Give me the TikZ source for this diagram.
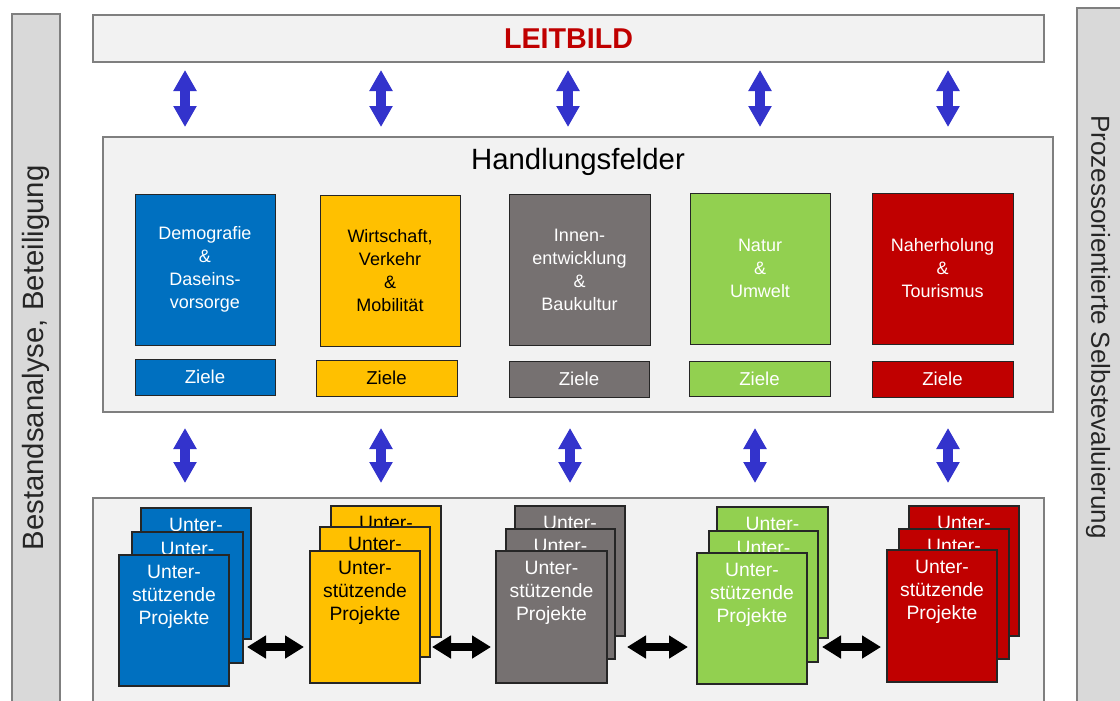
\documentclass[tikz,border=0pt]{standalone}
\usepackage{fontspec}
\setmainfont{Liberation Sans}
\usetikzlibrary{arrows.meta,fit,calc}
\definecolor{cblue}{HTML}{0070C0}
\definecolor{cyellow}{HTML}{FFC000}
\definecolor{cgray}{HTML}{767171}
\definecolor{cgreen}{HTML}{92D050}
\definecolor{cred}{HTML}{C00000}
\definecolor{cpanel}{HTML}{F2F2F2}
\definecolor{cside}{HTML}{D9D9D9}
\definecolor{cborder}{HTML}{7F7F7F}
\definecolor{cedge}{HTML}{262626}
\definecolor{carrow}{HTML}{3333CC}
\definecolor{ctext}{HTML}{262626}
\newcommand{\mkcard}[7]{%
  \node[cardbox, fill=#6, fit={(#2,#3) (#4,#5)}] (#1) {};
  \node[cardtxt, text=#7, anchor=north, yshift=-8.25pt] (#1t) at (#1.north) {Unter-\\stützende\\Projekte};
}
\newcommand{\mkfield}[7]{%
  \node[boxonly, fill=#6, fit={(#2,#3) (#4,#5)}] (#1) {};
  \node[fieldtxt, text=#7] (#1t) at (#1.center) {#1x};
}
\begin{document}
\begin{tikzpicture}[x=0.75pt,y=-0.75pt,
  panel/.style={draw=cborder, fill=cpanel, line width=0.9pt, inner sep=0pt},
  sidebar/.style={draw=cborder, fill=cside, line width=0.9pt, inner sep=0pt},
  boxonly/.style={draw=cedge, line width=0.75pt, inner sep=0pt},
  fieldtxt/.style={inner sep=0pt, align=center, font=\fontsize{13.5}{17.25}\selectfont},
  zieltxt/.style={inner sep=0pt, font=\fontsize{14}{17}\selectfont},
  cardbox/.style={draw=cedge, line width=0.9pt, inner sep=0pt},
  cardtxt/.style={inner sep=0pt, align=center, font=\fontsize{14.5}{17.25}\selectfont},
  vlink/.style={draw=carrow, line width=7.5pt, {Triangle[width=16.5pt,length=15.75pt]}-{Triangle[width=16.5pt,length=15.75pt]}},
  hlink/.style={draw=black, line width=6pt, {Triangle[width=16.5pt,length=14.25pt]}-{Triangle[width=16.5pt,length=14.25pt]}},
  sidetxt/.style={inner sep=0pt, text=ctext}
]
\useasboundingbox (0,0) rectangle (1120,700);
\clip (0,0) rectangle (1120,700);
\fill[white] (0,0) rectangle (1120,700);

% side bars
\node[sidebar, fit={(12,14) (60,730)}] (left) {};
\node[sidetxt, rotate=90, font=\fontsize{22}{26}\selectfont] (lefttxt) at (36,358) {Bestandsanalyse, Beteiligung};
\node[sidebar, fit={(1077,8) (1135,730)}] (right) {};
\node[sidetxt, rotate=-90, font=\fontsize{19.5}{24}\selectfont] (righttxt) at (1098,327) {Prozessorientierte Selbstevaluierung};

% Leitbild
\node[panel, fit={(93,15) (1044,62)}] (leit) {};
\node[inner sep=0pt, text=cred, font=\fontsize{21.5}{26}\selectfont\bfseries] (leittxt) at (leit.center) {LEITBILD};

% Handlungsfelder
\node[panel, fit={(103,137) (1053,412)}] (hf) {};
\node[inner sep=0pt, text=black, font=\fontsize{22}{26}\selectfont] (hftxt) at (578,162) {Handlungsfelder};

\node[boxonly, fill=cblue, fit={(135,194) (275,345)}] (f1) {};
\node[fieldtxt, text=white] (f1t) at (f1.center) {Demografie\\\&\\Daseins-\\vorsorge};
\node[boxonly, fill=cyellow, fit={(320,195) (460,346)}] (f2) {};
\node[fieldtxt, text=black] (f2t) at (f2.center) {Wirtschaft,\\Verkehr\\\&\\Mobilität};
\node[boxonly, fill=cgray, fit={(509,194) (650,345)}] (f3) {};
\node[fieldtxt, text=white] (f3t) at (f3.center) {Innen-\\entwicklung\\\&\\Baukultur};
\node[boxonly, fill=cgreen, fit={(690,193) (830,344)}] (f4) {};
\node[fieldtxt, text=white] (f4t) at (f4.center) {Natur\\\&\\Umwelt};
\node[boxonly, fill=cred, fit={(872,193) (1013,344)}] (f5) {};
\node[fieldtxt, text=white] (f5t) at (f5.center) {Naherholung\\\&\\Tourismus};

\node[boxonly, fill=cblue, fit={(135,359) (275,395)}] (z1) {};
\node[zieltxt, text=white] (z1t) at (z1.center) {Ziele};
\node[boxonly, fill=cyellow, fit={(316,360) (457,396)}] (z2) {};
\node[zieltxt, text=black] (z2t) at (z2.center) {Ziele};
\node[boxonly, fill=cgray, fit={(509,361) (649,397)}] (z3) {};
\node[zieltxt, text=white] (z3t) at (z3.center) {Ziele};
\node[boxonly, fill=cgreen, fit={(689,361) (830,396)}] (z4) {};
\node[zieltxt, text=white] (z4t) at (z4.center) {Ziele};
\node[boxonly, fill=cred, fit={(872,361) (1013,397)}] (z5) {};
\node[zieltxt, text=white] (z5t) at (z5.center) {Ziele};

% Projects panel
\node[panel, fit={(93,498) (1044,730)}] (proj) {};

\mkcard{b1}{141}{508}{251}{639}{cblue}{white}
\mkcard{b2}{132}{532}{243}{663}{cblue}{white}
\mkcard{b3}{119}{555}{229}{686}{cblue}{white}

\mkcard{y1}{331}{506}{441}{637}{cyellow}{black}
\mkcard{y2}{320}{527}{430}{657}{cyellow}{black}
\mkcard{y3}{310}{551}{420}{683}{cyellow}{black}

\mkcard{g1}{515}{506}{625}{636}{cgray}{white}
\mkcard{g2}{506}{529}{615}{659}{cgray}{white}
\mkcard{g3}{496}{551}{607}{683}{cgray}{white}

\mkcard{n1}{717}{507}{828}{638}{cgreen}{white}
\mkcard{n2}{709}{531}{818}{662}{cgreen}{white}
\mkcard{n3}{697}{553}{807}{684}{cgreen}{white}

\mkcard{r1}{909}{506}{1019}{636}{cred}{white}
\mkcard{r2}{899}{529}{1009}{659}{cred}{white}
\mkcard{r3}{887}{550}{997}{682}{cred}{white}

% vertical blue arrows
\foreach \i/\x in {1/185,2/381,3/568,4/760,5/948}{
  \coordinate (ua\i) at (\x,70);
  \coordinate (ub\i) at (\x,127);
  \draw[vlink] (ua\i) -- (ub\i);
}
\foreach \i/\x in {1/185,2/381,3/570,4/755,5/948}{
  \coordinate (la\i) at (\x,428);
  \coordinate (lb\i) at (\x,483);
  \draw[vlink] (la\i) -- (lb\i);
}

% horizontal black arrows
\foreach \i/\a/\b in {1/247/304,2/432/491,3/627/688,4/822/881}{
  \coordinate (ha\i) at (\a,647);
  \coordinate (hb\i) at (\b,647);
  \draw[hlink] (ha\i) -- (hb\i);
}
\end{tikzpicture}
\end{document}
